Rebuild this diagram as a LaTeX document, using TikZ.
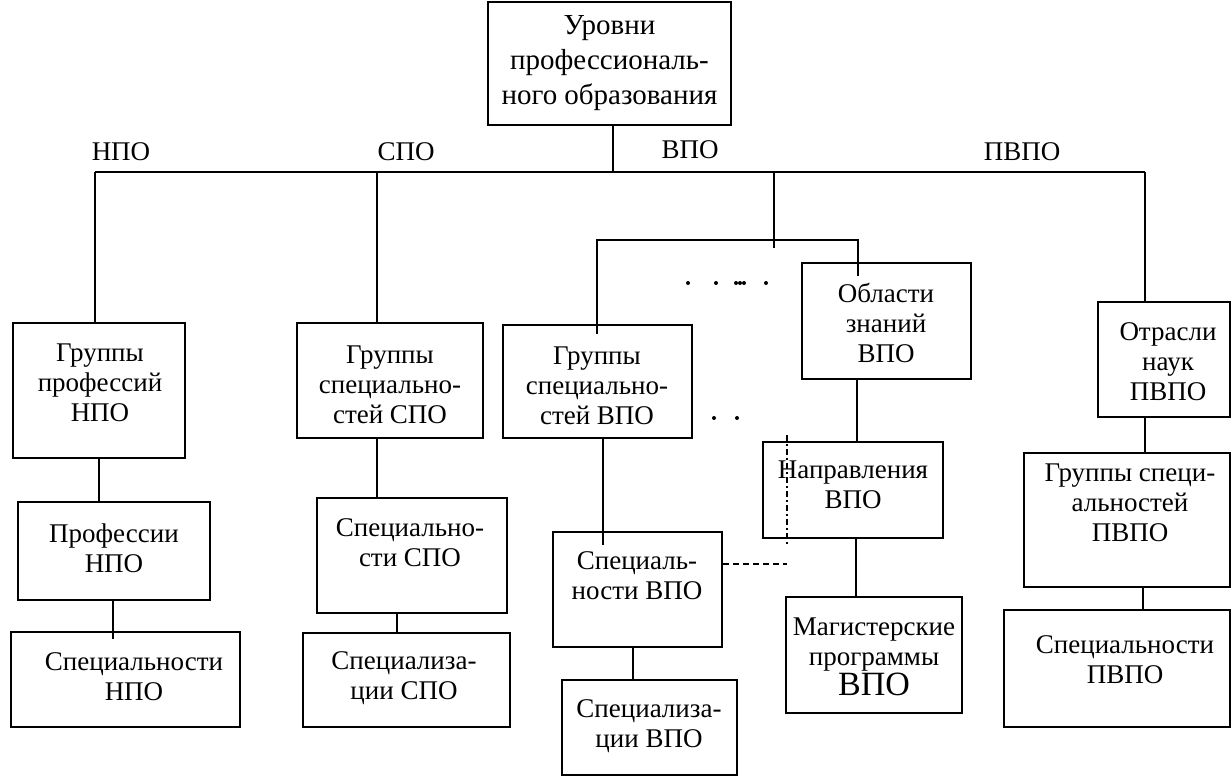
\documentclass[tikz,border=0pt]{standalone}
\usepackage{fontspec}
\setmainfont{Liberation Serif}
\usetikzlibrary{fit}
\begin{document}
\begin{tikzpicture}[x=0.5pt,y=-0.5pt,
  box/.style={draw,line width=1pt,inner sep=0pt},
  txt/.style={align=center,inner sep=0pt,font=\fontsize{13.5}{15}\selectfont},
  link/.style={line width=1pt},
  dashlink/.style={line width=0.9pt,dash pattern=on 3pt off 2pt},
  thindash/.style={line width=0.6pt,dash pattern=on 3pt off 1.5pt on 1pt off 1.5pt},
  dot/.style={fill,circle,inner sep=0pt,minimum size=2pt}]
\useasboundingbox (0,0) rectangle (1232,777);

% ---- root ----
\node[box,fit={(488,2) (731,125)}] (root) {};
\node[txt,font=\fontsize{14.5}{17.5}\selectfont] (rootT) at (609.5,63) {Уровни\\профессиональ-\\ного образования};

% ---- level labels ----
\node[txt] (lN) at (121,152) {НПО};
\node[txt] (lS) at (406,152) {СПО};
\node[txt] (lV) at (690,150) {ВПО};
\node[txt] (lP) at (1022,152) {ПВПО};

% ---- НПО column ----
\node[box,fit={(13,323) (185,458)}] (n1) {};
\node[txt] (n1T) at (100,383) {Группы\\профессий\\НПО};
\node[box,fit={(18,502) (210,600)}] (n2) {};
\node[txt] (n2T) at (114,548) {Профессии\\НПО};
\node[box,fit={(11,632) (240,727)}] (n3) {};
\node[txt] (n3T) at (134,677) {Специальности\\НПО};

% ---- СПО column ----
\node[box,fit={(297,323) (483,438)}] (s1) {};
\node[txt] (s1T) at (390,385) {Группы\\специально-\\стей СПО};
\node[box,fit={(317,498) (507,613)}] (s2) {};
\node[txt] (s2T) at (410,543) {Специально-\\сти СПО};
\node[box,fit={(303,633) (510,727)}] (s3) {};
\node[txt] (s3T) at (404,678) {Специализа-\\ции СПО};

% ---- ВПО column ----
\node[box,fit={(503,325) (692,438)}] (v1) {};
\node[txt] (v1T) at (597,386) {Группы\\специально-\\стей ВПО};
\node[box,fit={(553,532) (722,647)}] (v2) {};
\node[txt] (v2T) at (637,576) {Специаль-\\ности ВПО};
\node[box,fit={(562,680) (737,775)}] (v3) {};
\node[txt] (v3T) at (649,726) {Специализа-\\ции ВПО};
\node[box,fit={(802,263) (971,379)}] (o1) {};
\node[txt] (o1T) at (886,323) {Области\\знаний\\ВПО};
\node[box,fit={(763,442) (943,538)}] (o2) {};
\node[txt] (o2T) at (853,485) {Направления\\ВПО};
\node[box,fit={(786,597) (962,713)}] (o3) {};
\node[txt] (o3T) at (874,657) {Магистерские\\программы\\{\fontsize{17}{15}\selectfont ВПО}};

% ---- ПВПО column ----
\node[box,fit={(1098,302) (1230,417)}] (p1) {};
\node[txt] (p1T) at (1168,362) {Отрасли\\наук\\ПВПО};
\node[box,fit={(1024,453) (1230,587)}] (p2) {};
\node[txt] (p2T) at (1130,503) {Группы специ-\\альностей\\ПВПО};
\node[box,fit={(1004,610) (1230,727)}] (p3) {};
\node[txt] (p3T) at (1125,660) {Специальности\\ПВПО};

% ---- bus and junctions ----
\coordinate (jR) at (613,172);
\coordinate (jN) at (95,172);
\coordinate (jS) at (377,172);
\coordinate (jV) at (774,172);
\coordinate (jP) at (1145,172);
\coordinate (kV) at (774,240);
\coordinate (kL) at (597,240);
\coordinate (kR) at (858,240);

\draw[link] (jN) -- (jP);
\draw[link] (root.south -| jR) -- (jR);
\draw[link] (jN) -- (n1.north -| jN);
\draw[link] (jS) -- (s1.north -| jS);
\draw[link] (jV) -- ([yshift=-4pt]kV);
\draw[link] (jP) -- (p1.north -| jP);
\draw[link] (v1.north -| kL) |- (kR) -- ([yshift=-7pt]o1.north -| kR);
\draw[link] (kL) -- ([yshift=-5pt]v1.north -| kL);

% ---- НПО links ----
\draw[link] (n1.south -| 99,0) -- (n2.north -| 99,0);
\draw[link] (n2.south -| 113,0) -- ([yshift=-4pt]n3.north -| 113,0);

% ---- СПО links ----
\draw[link] (s1.south -| jS) -- (s2.north -| jS);
\draw[link] (s2.south -| 397,0) -- (s3.north -| 397,0);

% ---- ВПО links ----
\draw[link] (v1.south -| 603,0) -- ([yshift=-7pt]v2.north -| 603,0);
\draw[link] (v2.south -| 633,0) -- (v3.north -| 633,0);
\draw[link] (o1.south -| 857,0) -- (o2.north -| 857,0);
\draw[link] (o2.south -| 856,0) -- (o3.north -| 856,0);

% ---- ПВПО links ----
\draw[link] (p1.south -| jP) -- (p2.north -| jP);
\draw[link] (p2.south -| 1143,0) -- (p3.north -| 1143,0);

% ---- dashed link between Специальности and Направления ----
\coordinate (dTop) at (787,435);
\coordinate (dBot) at (787,547);
\coordinate (dEnd) at (787,564);
\draw[thindash] (dTop) -- (dBot);
\draw[dashlink] (v2.east |- dEnd) -- (dEnd);

% ---- ellipsis dots ----
\foreach \px in {688,716,736,740,744,766}
  \node[dot] at (\px,283) {};
\foreach \px in {714,737}
  \node[dot] at (\px,418) {};
\end{tikzpicture}
\end{document}
